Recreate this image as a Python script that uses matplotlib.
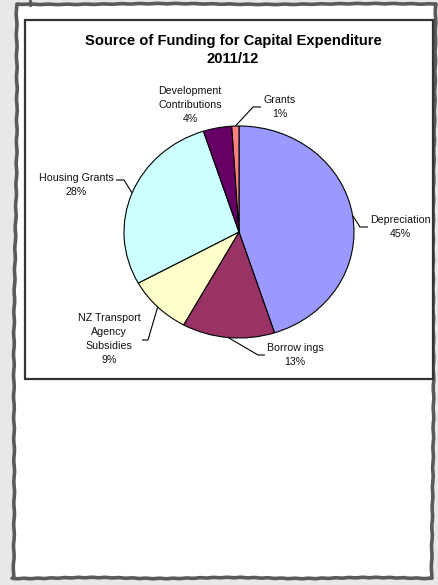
import numpy as np
import matplotlib
matplotlib.use("Agg")
import matplotlib.pyplot as plt
from matplotlib.patches import Rectangle, Polygon

plt.rcParams['font.family'] = ['Liberation Sans', 'DejaVu Sans']

# funding sources, clockwise from 12 o'clock
sources = ['Depreciation', 'Borrow ings', 'NZ Transport\nAgency\nSubsidies',
           'Housing Grants', 'Development\nContributions', 'Grants']
shares = [45, 13, 9, 28, 4, 1]
colours = ['#9999FF', '#993366', '#FFFFCC', '#CCFFFF', '#660066', '#FF8080']

# label centres and leader elbows in page pixels (None = no leader)
label_xy = [(400, 227), (295, 355), (109, 339), (76, 185), (190, 105), (280, 107)]
elbows = [[(360, 227), (368, 227)],
          [(258, 355), (265, 355)],
          [(148, 340), (142, 340)],
          [(124, 180), (116, 180)],
          None,
          [(253, 107), (261, 107)]]

W, H = 438, 585
fig = plt.figure(figsize=(W / 100, H / 100), dpi=100)
fig.patch.set_facecolor('#e8e8e8')

bg = fig.add_axes([0, 0, 1, 1])
bg.set_xlim(0, W)
bg.set_ylim(H, 0)
bg.axis('off')

# sheet of paper with a hand drawn edge
def wobble(n, amp, f1, f2, p):
    t = np.linspace(0, 1, n)
    return amp * (np.sin(2 * np.pi * f1 * t + p) + 0.6 * np.sin(2 * np.pi * f2 * t + 2 * p))

n = 120
top_x = np.linspace(19, 436, n); top_y = 4 + wobble(n, 0.4, 2, 23, 0.3)
right_y = np.linspace(4, 578, n); right_x = 435 + wobble(n, 0.6, 1.5, 29, 1.1) - np.linspace(0, 3, n)
bot_x = np.linspace(432, 12, n); bot_y = 578 + wobble(n, 0.5, 3, 31, 2.0)
left_y = np.linspace(578, 4, n); left_x = 13 + wobble(n, 0.7, 1.5, 27, 0.7) + np.linspace(0, 4, n)
px = np.concatenate([top_x, right_x, bot_x, left_x])
py = np.concatenate([top_y, right_y, bot_y, left_y])
bg.add_patch(Polygon(np.c_[px, py], closed=True, facecolor='white',
                     edgecolor='#5a5a5a', linewidth=2.6, joinstyle='round'))
bg.plot([30, 30], [0, 5], color='#5a5a5a', lw=2)

# chart area frame
bg.add_patch(Rectangle((25, 20), 408, 359, facecolor='white',
                       edgecolor='#333333', linewidth=1.6))

bg.text(233, 50, 'Source of Funding for Capital Expenditure\n2011/12',
        ha='center', va='center', fontsize=10.6, fontweight='bold',
        linespacing=1.4, color='black')

# pie: slightly wider than tall, as drawn in the workbook
cx, cy, a, b = 239, 232, 115, 106
ax = fig.add_axes([(cx - a) / W, (H - (cy + b)) / H, 2 * a / W, 2 * b / H])
wedges, _ = ax.pie(shares, colors=colours, startangle=90, counterclock=False,
                   wedgeprops=dict(edgecolor='black', linewidth=0.8))
ax.set_aspect('auto')
ax.set_xlim(-1, 1)
ax.set_ylim(-1, 1)

to_page = ax.transData + bg.transData.inverted()
for w, name, share, (tx, ty), elb in zip(wedges, sources, shares, label_xy, elbows):
    mid = np.deg2rad((w.theta1 + w.theta2) / 2)
    if elb is not None:
        rx, ry = to_page.transform((np.cos(mid), np.sin(mid)))
        xs = [rx] + [e[0] for e in elb]
        ys = [ry] + [e[1] for e in elb]
        bg.plot(xs, ys, color='black', lw=0.8, solid_capstyle='butt')
    bg.text(tx, ty, f'{name}\n{share}%', ha='center', va='center',
            fontsize=7.7, linespacing=1.5, color='#111111')

fig.savefig('out.png', dpi=100, facecolor=fig.get_facecolor())
